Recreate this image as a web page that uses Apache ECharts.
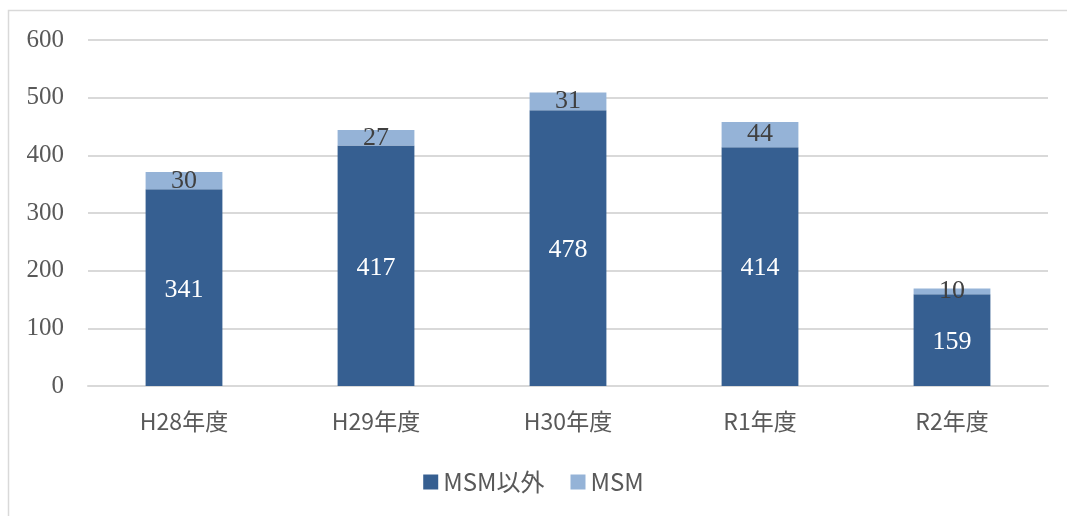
<!DOCTYPE html>
<html><head><meta charset="utf-8">
<script src="https://cdn.jsdelivr.net/npm/echarts@6/dist/echarts.min.js"></script>
<style>html,body{margin:0;padding:0;background:#fff}#c{width:1067px;height:516px}</style>
</head><body><div id="c"></div>
<script>
const categories = ['H28年度','H29年度','H30年度','R1年度','R2年度'];
const nonMsm = [341,417,478,414,159];
const msm = [30,27,31,44,10];
const seriesNames = ['MSM以外','MSM'];

const chart = echarts.init(document.getElementById('c'));
const serif = '"Liberation Serif", "DejaVu Serif", serif';
const sans = '"Noto Sans CJK JP", "Noto Sans", sans-serif';
chart.setOption({
  animation:false,
  graphic:[{type:'rect',shape:{x:8.5,y:10.5,width:1070,height:520},style:{fill:'none',stroke:'#d9d9d9',lineWidth:1.5},silent:true}],
  grid:{left:88,right:19,top:40,bottom:130},
  legend:{data:seriesNames,bottom:17,left:'center',itemWidth:15,itemHeight:15,itemGap:26,icon:'rect',
    textStyle:{fontFamily:sans,fontSize:24,color:'#595959'}},
  xAxis:{type:'category',data:categories,
    axisLine:{lineStyle:{color:'#d9d9d9',width:2}},axisTick:{show:false},
    axisLabel:{fontFamily:sans,fontSize:23,color:'#595959',margin:24}},
  yAxis:{type:'value',min:0,max:600,interval:100,
    axisLine:{show:false},axisTick:{show:false},
    splitLine:{lineStyle:{color:'#d9d9d9',width:2}},
    axisLabel:{fontFamily:serif,fontSize:25,color:'#595959',margin:24}},
  series:[
    {name:seriesNames[0],type:'bar',stack:'a',data:nonMsm,barWidth:'40%',itemStyle:{color:'#365f91'},
     label:{show:true,position:'inside',offset:[0,2],color:'#fff',fontFamily:serif,fontSize:26}},
    {name:seriesNames[1],type:'bar',stack:'a',data:msm,barWidth:'40%',itemStyle:{color:'#95b3d7'},
     label:{show:true,position:'inside',color:'#404040',fontFamily:serif,fontSize:26}}
  ]
});
</script></body></html>
